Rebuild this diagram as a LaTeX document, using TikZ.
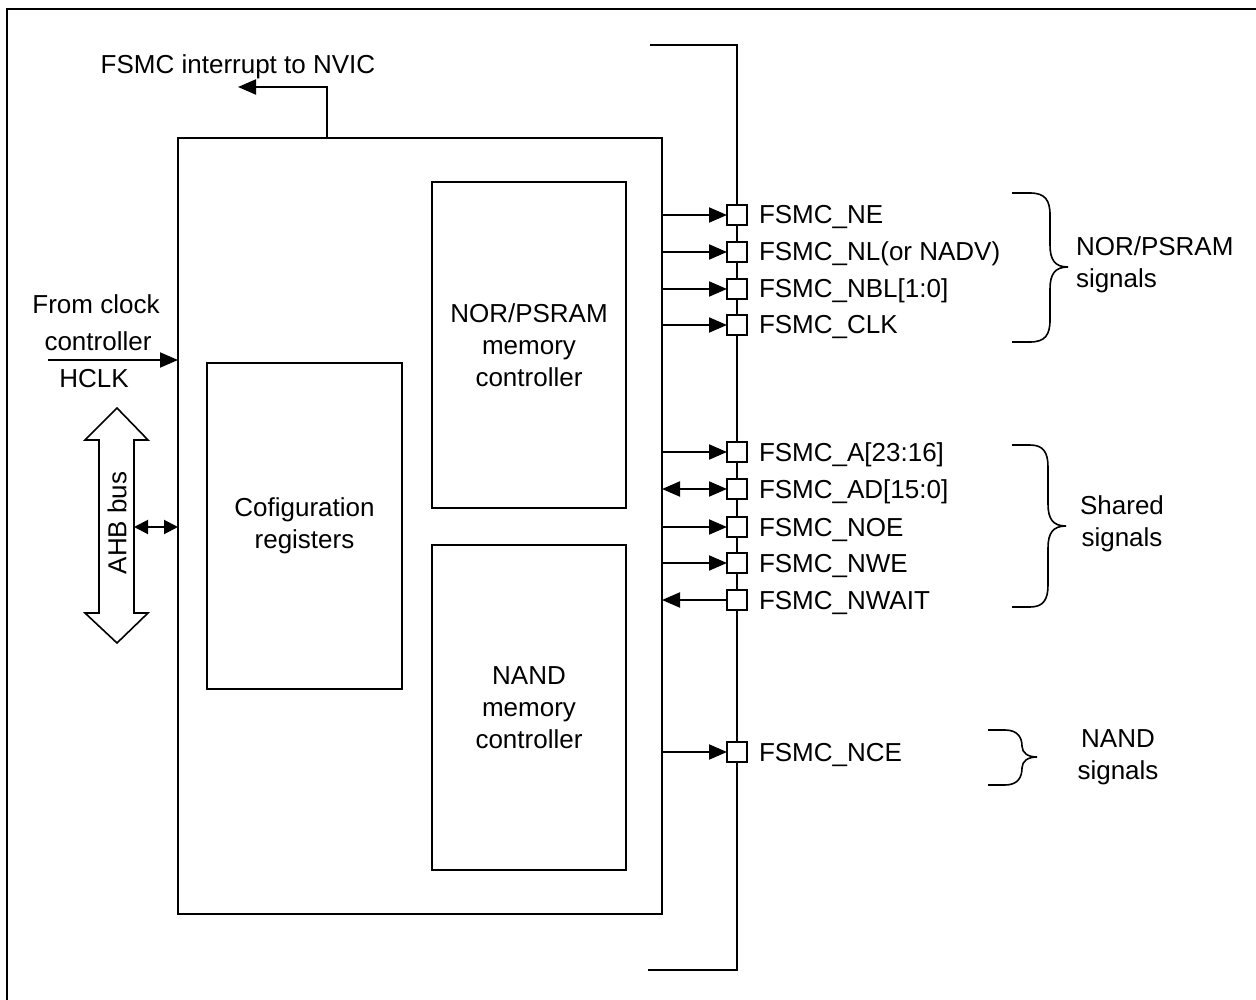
\documentclass[tikz,border=0pt]{standalone}
\usepackage{fontspec}
\setmainfont{Liberation Sans}
\usetikzlibrary{arrows.meta}
\begin{document}
\begin{tikzpicture}[x=1pt,y=-1pt,line width=2pt,
  txt/.style={font=\fontsize{26}{32}\selectfont,inner sep=0pt,align=center},
  blk/.style={draw,line width=2pt,inner sep=0pt,outer sep=0pt,anchor=north west,
    font=\fontsize{26}{32}\selectfont,align=center},
  pinbox/.style={draw,fill=white,minimum size=20pt,inner sep=0pt,outer sep=0pt,line width=1.6pt},
  tip/.tip={Triangle[length=18pt,width=15pt]},
  stip/.tip={Triangle[length=14pt,width=14pt]},
  sigo/.style={-tip},
  sigi/.style={tip-},
  sigb/.style={tip-tip},
  brace/.style={line width=1.6pt}]
\useasboundingbox (0,0) rectangle (1256,1000);
% outer frame (top and left visible)
\draw (7,1000) -- (7,9) -- (1256,9);

% main FSMC block
\node[blk,minimum width=484pt,minimum height=776pt] (fsmc) at (178,138) {};
% inner blocks
\node[blk,minimum width=194pt,minimum height=326pt] (nor) at (432,182) {NOR/PSRAM\\memory\\controller};
\node[blk,minimum width=194pt,minimum height=325pt] (nand) at (432,545) {NAND\\memory\\controller};
\node[blk,minimum width=195pt,minimum height=326pt] (cfg) at (207,363) {Cofiguration\\registers};

% interrupt
\node[txt,anchor=base] (irq) at (238,74) {FSMC interrupt to NVIC};
\coordinate (irqsrc) at (327,138);
\coordinate (irqtip) at (238,87);
\draw[sigo] (irqsrc) -- (irqsrc |- irqtip) -- (irqtip);

% clock
\node[txt,anchor=base] (clk1) at (96,314) {From clock};
\node[txt,anchor=base] (clk2) at (98,351) {controller};
\node[txt,anchor=base] (hclk) at (94,387) {HCLK};
\coordinate (clkin) at (48,360);
\draw[sigo] (clkin) -- (clkin -| fsmc.west);

% AHB bus
\draw[line width=1.6pt] (117,408) -- (148,440) -- (134,440) -- (134,613) -- (148,613)
  -- (117,643) -- (85,613) -- (99,613) -- (99,440) -- (85,440) -- cycle;
\node[txt,rotate=90] (ahb) at (117,523) {AHB bus};
\coordinate (ahbport) at (134,527);
\draw[stip-stip] (ahbport) -- (ahbport -| fsmc.west);

% external bus line
\coordinate (bustop) at (650,45);
\coordinate (busbot) at (648,970);
\draw (bustop) -- (737,45) -- (737,970) -- (busbot);

% pins
\foreach \n/\y/\t/\d in {NE/215/FSMC\_NE/sigo,
                         NL/252/FSMC\_NL(or NADV)/sigo,
                         NBL/289/FSMC\_NBL[1:0]/sigo,
                         CLK/325/FSMC\_CLK/sigo,
                         A/452/FSMC\_A[23:16]/sigo,
                         AD/489/FSMC\_AD[15:0]/sigb,
                         NOE/527/FSMC\_NOE/sigo,
                         NWE/563/FSMC\_NWE/sigo,
                         NWAIT/600/FSMC\_NWAIT/sigi,
                         NCE/752/FSMC\_NCE/sigo}{
  \node[pinbox] (p\n) at (737,\y) {};
  \node[txt,anchor=base west] (l\n) at (758,\y+9) {\t};
  \draw[\d] (p\n -| fsmc.east) -- (p\n.west);
}

% braces
\draw[brace] (1012,193) -- (1030,193) .. controls (1045,193) and (1050,200) .. (1050,215)
  -- (1050,245) .. controls (1050,260) and (1055,267) .. (1068,267)
  .. controls (1055,267) and (1050,274) .. (1050,289)
  -- (1050,320) .. controls (1050,335) and (1045,342) .. (1030,342) -- (1012,342);
\node[txt,align=left,anchor=west] (norsig) at (1075,265) {NOR/PSRAM\\signals};

\draw[brace] (1012,445) -- (1030,445) .. controls (1043,445) and (1048,452) .. (1048,467)
  -- (1048,504) .. controls (1048,519) and (1053,526) .. (1066,526)
  .. controls (1053,526) and (1048,533) .. (1048,548)
  -- (1048,585) .. controls (1048,600) and (1043,607) .. (1030,607) -- (1012,607);
\node[txt] (shsig) at (1122,524) {Shared\\signals};

\draw[brace] (988,730) -- (1005,730) .. controls (1018,730) and (1022,738) .. (1022,746)
  .. controls (1022,753) and (1028,757) .. (1037,757)
  .. controls (1028,757) and (1022,761) .. (1022,768)
  .. controls (1022,777) and (1018,785) .. (1005,785) -- (988,785);
\node[txt] (nandsig) at (1118,757) {NAND\\signals};
\end{tikzpicture}
\end{document}
